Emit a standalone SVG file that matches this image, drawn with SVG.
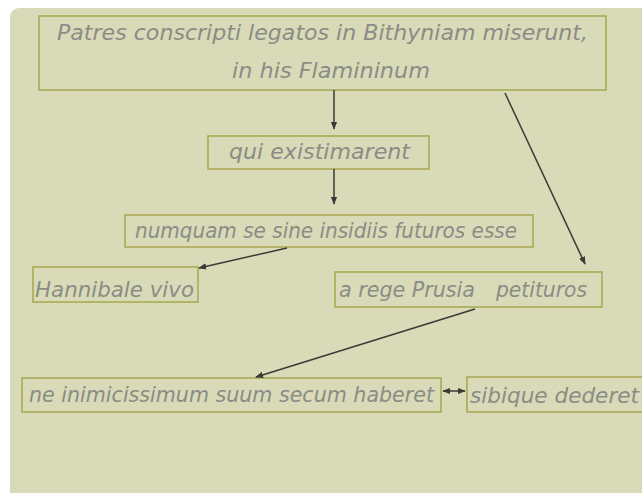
<svg xmlns="http://www.w3.org/2000/svg" width="642" height="493" viewBox="0 0 642 493">
<defs>
<marker id="ah" viewBox="0 0 10 10" refX="9" refY="5" markerWidth="8" markerHeight="8" orient="auto-start-reverse" markerUnits="userSpaceOnUse">
<path d="M0,1 L10,5 L0,9 Z" fill="#3a3a35"/>
</marker>
<style>
.box{fill:none;stroke:#a9aa55;stroke-width:1.6}
.t{font-family:"DejaVu Sans","Liberation Sans",sans-serif;font-style:italic;font-size:20.5px;fill:#8b8c86}
.c{stroke:#3a3a35;stroke-width:1.5;fill:none;marker-end:url(#ah)}
</style>
</defs>
<rect x="0" y="0" width="642" height="493" fill="#ffffff"/>
<rect x="10" y="8" width="650" height="500" rx="9" fill="#d9dab7"/>
<g id="n1">
<rect class="box" x="39" y="16" width="567" height="74"/>
<text class="t" x="57" y="40" textLength="531" lengthAdjust="spacingAndGlyphs">Patres conscripti legatos in Bithyniam miserunt,</text>
<text class="t" x="232" y="78" textLength="198" lengthAdjust="spacingAndGlyphs">in his Flamininum</text>
</g>
<g id="n2">
<rect class="box" x="208" y="136" width="221" height="33"/>
<text class="t" x="229" y="159" textLength="181" lengthAdjust="spacingAndGlyphs">qui existimarent</text>
</g>
<g id="n3">
<rect class="box" x="125" y="215" width="408" height="32"/>
<text class="t" x="135" y="238" textLength="382" lengthAdjust="spacingAndGlyphs">numquam se sine insidiis futuros esse</text>
</g>
<g id="n4">
<rect class="box" x="33" y="267" width="165" height="35"/>
<text class="t" x="35" y="297" textLength="159" lengthAdjust="spacingAndGlyphs">Hannibale vivo</text>
</g>
<g id="n5">
<rect class="box" x="335" y="272" width="267" height="35"/>
<text class="t" x="339" y="297" textLength="136" lengthAdjust="spacingAndGlyphs">a rege Prusia</text>
<text class="t" x="496" y="297" textLength="91" lengthAdjust="spacingAndGlyphs">petituros</text>
</g>
<g id="n6">
<rect class="box" x="22" y="378" width="419" height="34"/>
<text class="t" x="29" y="402" textLength="405" lengthAdjust="spacingAndGlyphs">ne inimicissimum suum secum haberet</text>
</g>
<g id="n7">
<rect class="box" x="467" y="377" width="180" height="35"/>
<text class="t" x="470" y="403" textLength="169" lengthAdjust="spacingAndGlyphs">sibique dederet</text>
</g>
<g id="connectors">
<line class="c" x1="334" y1="90" x2="334" y2="129"/>
<line class="c" x1="334" y1="169" x2="334" y2="204"/>
<line class="c" x1="287" y1="248" x2="199" y2="268"/>
<line class="c" x1="505" y1="93" x2="585" y2="264"/>
<line class="c" x1="475" y1="309" x2="256" y2="377"/>
<line class="c" x1="443" y1="391" x2="465" y2="391" style="marker-start:url(#ah)"/>
</g>
</svg>
